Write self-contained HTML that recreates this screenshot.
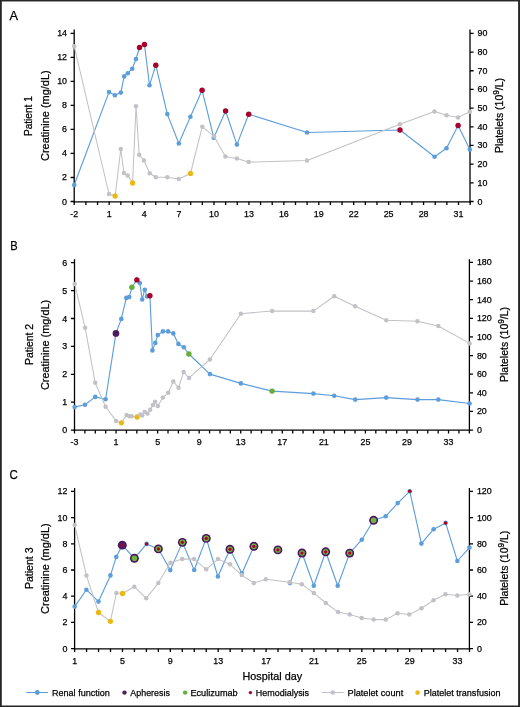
<!DOCTYPE html><html><head><meta charset="utf-8"><style>html,body{margin:0;padding:0;background:#fff;}svg{display:block;will-change:transform;}text{font-family:"Liberation Sans",sans-serif;fill:#000;stroke:#000;stroke-width:0.25px;}</style></head><body>
<svg width="520" height="707" viewBox="0 0 520 707">
<rect x="0" y="0" width="520" height="707" fill="#fff"/>
<g stroke="#000" stroke-width="1.3" fill="none">
<path d="M74.2 29.5V202.4"/>
<path d="M470 29.5V202.4"/>
<path d="M73.6 201.8H470.6"/>
<path d="M70.6 201.5H74.2M70.6 177.49H74.2M70.6 153.47H74.2M70.6 129.46H74.2M70.6 105.44H74.2M70.6 81.43H74.2M70.6 57.42H74.2M70.6 33.4H74.2M470 201.5H473.6M470 182.82H473.6M470 164.14H473.6M470 145.46H473.6M470 126.78H473.6M470 108.1H473.6M470 89.42H473.6M470 70.74H473.6M470 52.06H473.6M470 33.38H473.6M74.25 201.8V205M85.89 201.8V205M97.54 201.8V205M109.18 201.8V205M120.83 201.8V205M132.47 201.8V205M144.11 201.8V205M155.76 201.8V205M167.4 201.8V205M179.05 201.8V205M190.69 201.8V205M202.33 201.8V205M213.98 201.8V205M225.62 201.8V205M237.27 201.8V205M248.91 201.8V205M260.55 201.8V205M272.2 201.8V205M283.84 201.8V205M295.49 201.8V205M307.13 201.8V205M318.77 201.8V205M330.42 201.8V205M342.06 201.8V205M353.71 201.8V205M365.35 201.8V205M376.99 201.8V205M388.64 201.8V205M400.28 201.8V205M411.93 201.8V205M423.57 201.8V205M435.21 201.8V205M446.86 201.8V205M458.5 201.8V205M470.15 201.8V205"/>
</g>
<text x="67" y="204.5" font-size="8.9" text-anchor="end">0</text>
<text x="67" y="180.49" font-size="8.9" text-anchor="end">2</text>
<text x="67" y="156.47" font-size="8.9" text-anchor="end">4</text>
<text x="67" y="132.46" font-size="8.9" text-anchor="end">6</text>
<text x="67" y="108.44" font-size="8.9" text-anchor="end">8</text>
<text x="67" y="84.43" font-size="8.9" text-anchor="end">10</text>
<text x="67" y="60.42" font-size="8.9" text-anchor="end">12</text>
<text x="67" y="36.4" font-size="8.9" text-anchor="end">14</text>
<text x="477.5" y="204.5" font-size="8.9" text-anchor="start">0</text>
<text x="477.5" y="185.82" font-size="8.9" text-anchor="start">10</text>
<text x="477.5" y="167.14" font-size="8.9" text-anchor="start">20</text>
<text x="477.5" y="148.46" font-size="8.9" text-anchor="start">30</text>
<text x="477.5" y="129.78" font-size="8.9" text-anchor="start">40</text>
<text x="477.5" y="111.1" font-size="8.9" text-anchor="start">50</text>
<text x="477.5" y="92.42" font-size="8.9" text-anchor="start">60</text>
<text x="477.5" y="73.74" font-size="8.9" text-anchor="start">70</text>
<text x="477.5" y="55.06" font-size="8.9" text-anchor="start">80</text>
<text x="477.5" y="36.38" font-size="8.9" text-anchor="start">90</text>
<text x="74.25" y="217" font-size="8.9" text-anchor="middle">&#8209;2</text>
<text x="109.18" y="217" font-size="8.9" text-anchor="middle">1</text>
<text x="144.11" y="217" font-size="8.9" text-anchor="middle">4</text>
<text x="179.05" y="217" font-size="8.9" text-anchor="middle">7</text>
<text x="213.98" y="217" font-size="8.9" text-anchor="middle">10</text>
<text x="248.91" y="217" font-size="8.9" text-anchor="middle">13</text>
<text x="283.84" y="217" font-size="8.9" text-anchor="middle">16</text>
<text x="318.77" y="217" font-size="8.9" text-anchor="middle">19</text>
<text x="353.71" y="217" font-size="8.9" text-anchor="middle">22</text>
<text x="388.64" y="217" font-size="8.9" text-anchor="middle">25</text>
<text x="423.57" y="217" font-size="8.9" text-anchor="middle">28</text>
<text x="458.5" y="217" font-size="8.9" text-anchor="middle">31</text>
<polyline fill="none" stroke="#5c9ddb" stroke-width="1.12" stroke-linejoin="round" points="74.2,185 109,92.1 114.9,95.3 120.8,92.6 124.2,76.4 127.8,73.2 132.2,68.7 135.95,59.1 139.5,47.5 144.45,44.45 149.5,85.3 155.8,65.2 167.3,114.1 178.8,143.5 190.4,116.7 202.1,90.3 213.8,137.7 225.6,111 236.9,144.6 248.7,114.2 307.05,132.5 400,130 434.6,156.8 446.5,148.3 458.1,125.5 469.8,149.5"/>
<circle cx="74.2" cy="185" r="2.3" fill="#5c9ddb"/>
<circle cx="109" cy="92.1" r="2.3" fill="#5c9ddb"/>
<circle cx="114.9" cy="95.3" r="2.3" fill="#5c9ddb"/>
<circle cx="120.8" cy="92.6" r="2.3" fill="#5c9ddb"/>
<circle cx="124.2" cy="76.4" r="2.3" fill="#5c9ddb"/>
<circle cx="127.8" cy="73.2" r="2.3" fill="#5c9ddb"/>
<circle cx="132.2" cy="68.7" r="2.3" fill="#5c9ddb"/>
<circle cx="135.95" cy="59.1" r="2.3" fill="#5c9ddb"/>
<circle cx="139.5" cy="47.5" r="2.3" fill="#5c9ddb"/>
<circle cx="144.45" cy="44.45" r="2.3" fill="#5c9ddb"/>
<circle cx="149.5" cy="85.3" r="2.3" fill="#5c9ddb"/>
<circle cx="155.8" cy="65.2" r="2.3" fill="#5c9ddb"/>
<circle cx="167.3" cy="114.1" r="2.3" fill="#5c9ddb"/>
<circle cx="178.8" cy="143.5" r="2.3" fill="#5c9ddb"/>
<circle cx="190.4" cy="116.7" r="2.3" fill="#5c9ddb"/>
<circle cx="202.1" cy="90.3" r="2.3" fill="#5c9ddb"/>
<circle cx="213.8" cy="137.7" r="2.3" fill="#5c9ddb"/>
<circle cx="225.6" cy="111" r="2.3" fill="#5c9ddb"/>
<circle cx="236.9" cy="144.6" r="2.3" fill="#5c9ddb"/>
<circle cx="248.7" cy="114.2" r="2.3" fill="#5c9ddb"/>
<circle cx="307.05" cy="132.5" r="2.3" fill="#5c9ddb"/>
<circle cx="400" cy="130" r="2.3" fill="#5c9ddb"/>
<circle cx="434.6" cy="156.8" r="2.3" fill="#5c9ddb"/>
<circle cx="446.5" cy="148.3" r="2.3" fill="#5c9ddb"/>
<circle cx="458.1" cy="125.5" r="2.3" fill="#5c9ddb"/>
<circle cx="469.8" cy="149.5" r="2.3" fill="#5c9ddb"/>
<circle cx="139.5" cy="47.5" r="2.7" fill="#a8002a"/>
<circle cx="144.45" cy="44.45" r="2.7" fill="#a8002a"/>
<circle cx="155.8" cy="65.2" r="2.7" fill="#a8002a"/>
<circle cx="202.1" cy="90.3" r="2.7" fill="#a8002a"/>
<circle cx="225.6" cy="111" r="2.7" fill="#a8002a"/>
<circle cx="248.7" cy="114.2" r="2.7" fill="#a8002a"/>
<circle cx="400" cy="130" r="2.7" fill="#a8002a"/>
<circle cx="458.1" cy="125.5" r="2.7" fill="#a8002a"/>
<polyline fill="none" stroke="#c2c2c4" stroke-width="1.05" stroke-linejoin="round" points="74.2,46.3 109,194 115.1,196 120.8,149 123.95,173 127.7,175.4 132.6,183 136,106.2 139.2,154.8 143.9,160.45 149.7,173.3 155.8,177.25 167.3,177.3 178.8,179 190.5,173.5 202.3,126.7 214,136.3 225.4,156.5 236.9,158.5 248.7,162.1 307,160.5 399.9,124.2 434.5,111.6 446.5,115.3 458.1,117.4 469.8,111.8"/>
<circle cx="74.2" cy="46.3" r="2.25" fill="#c3c1c8"/>
<circle cx="109" cy="194" r="2.25" fill="#c3c1c8"/>
<circle cx="115.1" cy="196" r="2.65" fill="#ebb914"/>
<circle cx="120.8" cy="149" r="2.25" fill="#c3c1c8"/>
<circle cx="123.95" cy="173" r="2.25" fill="#c3c1c8"/>
<circle cx="127.7" cy="175.4" r="2.25" fill="#c3c1c8"/>
<circle cx="132.6" cy="183" r="2.65" fill="#ebb914"/>
<circle cx="136" cy="106.2" r="2.25" fill="#c3c1c8"/>
<circle cx="139.2" cy="154.8" r="2.25" fill="#c3c1c8"/>
<circle cx="143.9" cy="160.45" r="2.25" fill="#c3c1c8"/>
<circle cx="149.7" cy="173.3" r="2.25" fill="#c3c1c8"/>
<circle cx="155.8" cy="177.25" r="2.25" fill="#c3c1c8"/>
<circle cx="167.3" cy="177.3" r="2.25" fill="#c3c1c8"/>
<circle cx="178.8" cy="179" r="2.25" fill="#c3c1c8"/>
<circle cx="190.5" cy="173.5" r="2.65" fill="#ebb914"/>
<circle cx="202.3" cy="126.7" r="2.25" fill="#c3c1c8"/>
<circle cx="214" cy="136.3" r="2.25" fill="#c3c1c8"/>
<circle cx="225.4" cy="156.5" r="2.25" fill="#c3c1c8"/>
<circle cx="236.9" cy="158.5" r="2.25" fill="#c3c1c8"/>
<circle cx="248.7" cy="162.1" r="2.25" fill="#c3c1c8"/>
<circle cx="307" cy="160.5" r="2.25" fill="#c3c1c8"/>
<circle cx="399.9" cy="124.2" r="2.25" fill="#c3c1c8"/>
<circle cx="434.5" cy="111.6" r="2.25" fill="#c3c1c8"/>
<circle cx="446.5" cy="115.3" r="2.25" fill="#c3c1c8"/>
<circle cx="458.1" cy="117.4" r="2.25" fill="#c3c1c8"/>
<circle cx="469.8" cy="111.8" r="2.25" fill="#c3c1c8"/>
<text x="9.6" y="20.3" font-size="13.2" text-anchor="start" textLength="8.5" lengthAdjust="spacingAndGlyphs">A</text>
<text transform="translate(32.4 116.15) rotate(-90)" font-size="11" text-anchor="middle" textLength="39.9" lengthAdjust="spacingAndGlyphs">Patient 1</text>
<text transform="translate(48.5 115.7) rotate(-90)" font-size="11" text-anchor="middle" textLength="90.6" lengthAdjust="spacingAndGlyphs">Creatinine (mg/dL)</text>
<text transform="translate(502.8 115.5) rotate(-90)" font-size="11" text-anchor="middle" textLength="75" lengthAdjust="spacingAndGlyphs">Platelets (10<tspan font-size="8.6" dy="-3.6">9</tspan><tspan dy="3.6">/L)</tspan></text>
<g stroke="#000" stroke-width="1.3" fill="none">
<path d="M74.5 259.2V430.8"/>
<path d="M469.4 259.2V430.8"/>
<path d="M73.9 430.2H470"/>
<path d="M70.9 430.1H74.5M70.9 402.2H74.5M70.9 374.3H74.5M70.9 346.4H74.5M70.9 318.5H74.5M70.9 290.6H74.5M70.9 262.7H74.5M469.4 430.1H473M469.4 411.47H473M469.4 392.83H473M469.4 374.2H473M469.4 355.56H473M469.4 336.93H473M469.4 318.3H473M469.4 299.66H473M469.4 281.03H473M469.4 262.39H473M74.5 430.2V433.4M84.89 430.2V433.4M95.28 430.2V433.4M105.67 430.2V433.4M116.06 430.2V433.4M126.45 430.2V433.4M136.84 430.2V433.4M147.23 430.2V433.4M157.62 430.2V433.4M168.01 430.2V433.4M178.4 430.2V433.4M188.79 430.2V433.4M199.18 430.2V433.4M209.57 430.2V433.4M219.96 430.2V433.4M230.35 430.2V433.4M240.74 430.2V433.4M251.13 430.2V433.4M261.52 430.2V433.4M271.91 430.2V433.4M282.3 430.2V433.4M292.69 430.2V433.4M303.08 430.2V433.4M313.47 430.2V433.4M323.86 430.2V433.4M334.25 430.2V433.4M344.64 430.2V433.4M355.03 430.2V433.4M365.42 430.2V433.4M375.81 430.2V433.4M386.2 430.2V433.4M396.59 430.2V433.4M406.98 430.2V433.4M417.37 430.2V433.4M427.76 430.2V433.4M438.15 430.2V433.4M448.54 430.2V433.4M458.93 430.2V433.4M469.32 430.2V433.4"/>
</g>
<text x="67.3" y="433.1" font-size="8.9" text-anchor="end">0</text>
<text x="67.3" y="405.2" font-size="8.9" text-anchor="end">1</text>
<text x="67.3" y="377.3" font-size="8.9" text-anchor="end">2</text>
<text x="67.3" y="349.4" font-size="8.9" text-anchor="end">3</text>
<text x="67.3" y="321.5" font-size="8.9" text-anchor="end">4</text>
<text x="67.3" y="293.6" font-size="8.9" text-anchor="end">5</text>
<text x="67.3" y="265.7" font-size="8.9" text-anchor="end">6</text>
<text x="476.9" y="433.1" font-size="8.9" text-anchor="start">0</text>
<text x="476.9" y="414.47" font-size="8.9" text-anchor="start">20</text>
<text x="476.9" y="395.83" font-size="8.9" text-anchor="start">40</text>
<text x="476.9" y="377.2" font-size="8.9" text-anchor="start">60</text>
<text x="476.9" y="358.56" font-size="8.9" text-anchor="start">80</text>
<text x="476.9" y="339.93" font-size="8.9" text-anchor="start">100</text>
<text x="476.9" y="321.3" font-size="8.9" text-anchor="start">120</text>
<text x="476.9" y="302.66" font-size="8.9" text-anchor="start">140</text>
<text x="476.9" y="284.03" font-size="8.9" text-anchor="start">160</text>
<text x="476.9" y="265.39" font-size="8.9" text-anchor="start">180</text>
<text x="74.5" y="445.4" font-size="8.9" text-anchor="middle">&#8209;3</text>
<text x="116.06" y="445.4" font-size="8.9" text-anchor="middle">1</text>
<text x="157.62" y="445.4" font-size="8.9" text-anchor="middle">5</text>
<text x="199.18" y="445.4" font-size="8.9" text-anchor="middle">9</text>
<text x="240.74" y="445.4" font-size="8.9" text-anchor="middle">13</text>
<text x="282.3" y="445.4" font-size="8.9" text-anchor="middle">17</text>
<text x="323.86" y="445.4" font-size="8.9" text-anchor="middle">21</text>
<text x="365.42" y="445.4" font-size="8.9" text-anchor="middle">25</text>
<text x="406.98" y="445.4" font-size="8.9" text-anchor="middle">29</text>
<text x="448.54" y="445.4" font-size="8.9" text-anchor="middle">33</text>
<polyline fill="none" stroke="#5c9ddb" stroke-width="1.12" stroke-linejoin="round" points="74.6,407.1 85,404.7 95.2,396.9 105.6,399.3 115.95,333.4 121.3,318.9 126.3,297.9 129.2,297.1 131.9,287.3 136.9,279.9 139.8,283 142.2,299.5 144.8,289.7 147,296.4 149.9,295.7 152.4,350.4 155.3,342.9 157.8,335.1 162.9,331.4 168.1,331.4 173.3,333.4 178.4,343.9 183.8,347.3 188.9,354 209.9,374.1 240.9,383.4 272.1,391.1 313.4,393.6 334.2,395.7 355.2,399.6 386.2,397.6 417.5,399.6 438.3,399.6 469.6,403.5"/>
<circle cx="74.6" cy="407.1" r="2.3" fill="#5c9ddb"/>
<circle cx="85" cy="404.7" r="2.3" fill="#5c9ddb"/>
<circle cx="95.2" cy="396.9" r="2.3" fill="#5c9ddb"/>
<circle cx="105.6" cy="399.3" r="2.3" fill="#5c9ddb"/>
<circle cx="115.95" cy="333.4" r="2.3" fill="#5c9ddb"/>
<circle cx="121.3" cy="318.9" r="2.3" fill="#5c9ddb"/>
<circle cx="126.3" cy="297.9" r="2.3" fill="#5c9ddb"/>
<circle cx="129.2" cy="297.1" r="2.3" fill="#5c9ddb"/>
<circle cx="131.9" cy="287.3" r="2.3" fill="#5c9ddb"/>
<circle cx="136.9" cy="279.9" r="2.3" fill="#5c9ddb"/>
<circle cx="139.8" cy="283" r="2.3" fill="#5c9ddb"/>
<circle cx="142.2" cy="299.5" r="2.3" fill="#5c9ddb"/>
<circle cx="144.8" cy="289.7" r="2.3" fill="#5c9ddb"/>
<circle cx="147" cy="296.4" r="2.3" fill="#5c9ddb"/>
<circle cx="149.9" cy="295.7" r="2.3" fill="#5c9ddb"/>
<circle cx="152.4" cy="350.4" r="2.3" fill="#5c9ddb"/>
<circle cx="155.3" cy="342.9" r="2.3" fill="#5c9ddb"/>
<circle cx="157.8" cy="335.1" r="2.3" fill="#5c9ddb"/>
<circle cx="162.9" cy="331.4" r="2.3" fill="#5c9ddb"/>
<circle cx="168.1" cy="331.4" r="2.3" fill="#5c9ddb"/>
<circle cx="173.3" cy="333.4" r="2.3" fill="#5c9ddb"/>
<circle cx="178.4" cy="343.9" r="2.3" fill="#5c9ddb"/>
<circle cx="183.8" cy="347.3" r="2.3" fill="#5c9ddb"/>
<circle cx="188.9" cy="354" r="2.3" fill="#5c9ddb"/>
<circle cx="209.9" cy="374.1" r="2.3" fill="#5c9ddb"/>
<circle cx="240.9" cy="383.4" r="2.3" fill="#5c9ddb"/>
<circle cx="272.1" cy="391.1" r="2.3" fill="#5c9ddb"/>
<circle cx="313.4" cy="393.6" r="2.3" fill="#5c9ddb"/>
<circle cx="334.2" cy="395.7" r="2.3" fill="#5c9ddb"/>
<circle cx="355.2" cy="399.6" r="2.3" fill="#5c9ddb"/>
<circle cx="386.2" cy="397.6" r="2.3" fill="#5c9ddb"/>
<circle cx="417.5" cy="399.6" r="2.3" fill="#5c9ddb"/>
<circle cx="438.3" cy="399.6" r="2.3" fill="#5c9ddb"/>
<circle cx="469.6" cy="403.5" r="2.3" fill="#5c9ddb"/>
<circle cx="115.95" cy="333.4" r="3.35" fill="#4b1c5e"/>
<circle cx="131.9" cy="287.3" r="2.7" fill="#68ac3a"/>
<circle cx="136.9" cy="279.9" r="2.7" fill="#a8002a"/>
<circle cx="149.9" cy="295.7" r="2.7" fill="#a8002a"/>
<circle cx="188.9" cy="354" r="2.7" fill="#68ac3a"/>
<circle cx="272.1" cy="391.1" r="2.7" fill="#68ac3a"/>
<polyline fill="none" stroke="#c2c2c4" stroke-width="1.05" stroke-linejoin="round" points="74.7,284 85.1,327.7 95.2,382.7 105.6,406.7 116.1,420.9 121.4,422.8 126.6,415.1 129.4,416.3 131.6,416.3 137.1,417 140.3,414.6 142.2,415.5 144.6,412 147.4,413.6 150.2,409.8 152.9,404.9 155.1,401.8 157.8,406 162.9,397.6 168.2,392.8 173.3,381.5 178.5,387.7 183.6,372.1 189,377.9 209.9,359.5 240.9,313.7 272.1,311 313.4,311.1 334.2,296.2 355.1,306.3 386.3,320.3 417.4,321.3 438.3,326 469.6,343.4"/>
<circle cx="74.7" cy="284" r="2.25" fill="#c3c1c8"/>
<circle cx="85.1" cy="327.7" r="2.25" fill="#c3c1c8"/>
<circle cx="95.2" cy="382.7" r="2.25" fill="#c3c1c8"/>
<circle cx="105.6" cy="406.7" r="2.25" fill="#c3c1c8"/>
<circle cx="116.1" cy="420.9" r="2.25" fill="#c3c1c8"/>
<circle cx="121.4" cy="422.8" r="2.65" fill="#ebb914"/>
<circle cx="126.6" cy="415.1" r="2.25" fill="#c3c1c8"/>
<circle cx="129.4" cy="416.3" r="2.25" fill="#c3c1c8"/>
<circle cx="131.6" cy="416.3" r="2.25" fill="#c3c1c8"/>
<circle cx="137.1" cy="417" r="2.65" fill="#ebb914"/>
<circle cx="140.3" cy="414.6" r="2.25" fill="#c3c1c8"/>
<circle cx="142.2" cy="415.5" r="2.25" fill="#c3c1c8"/>
<circle cx="144.6" cy="412" r="2.25" fill="#c3c1c8"/>
<circle cx="147.4" cy="413.6" r="2.25" fill="#c3c1c8"/>
<circle cx="150.2" cy="409.8" r="2.25" fill="#c3c1c8"/>
<circle cx="152.9" cy="404.9" r="2.25" fill="#c3c1c8"/>
<circle cx="155.1" cy="401.8" r="2.25" fill="#c3c1c8"/>
<circle cx="157.8" cy="406" r="2.25" fill="#c3c1c8"/>
<circle cx="162.9" cy="397.6" r="2.25" fill="#c3c1c8"/>
<circle cx="168.2" cy="392.8" r="2.25" fill="#c3c1c8"/>
<circle cx="173.3" cy="381.5" r="2.25" fill="#c3c1c8"/>
<circle cx="178.5" cy="387.7" r="2.25" fill="#c3c1c8"/>
<circle cx="183.6" cy="372.1" r="2.25" fill="#c3c1c8"/>
<circle cx="189" cy="377.9" r="2.25" fill="#c3c1c8"/>
<circle cx="209.9" cy="359.5" r="2.25" fill="#c3c1c8"/>
<circle cx="240.9" cy="313.7" r="2.25" fill="#c3c1c8"/>
<circle cx="272.1" cy="311" r="2.25" fill="#c3c1c8"/>
<circle cx="313.4" cy="311.1" r="2.25" fill="#c3c1c8"/>
<circle cx="334.2" cy="296.2" r="2.25" fill="#c3c1c8"/>
<circle cx="355.1" cy="306.3" r="2.25" fill="#c3c1c8"/>
<circle cx="386.3" cy="320.3" r="2.25" fill="#c3c1c8"/>
<circle cx="417.4" cy="321.3" r="2.25" fill="#c3c1c8"/>
<circle cx="438.3" cy="326" r="2.25" fill="#c3c1c8"/>
<circle cx="469.6" cy="343.4" r="2.25" fill="#c3c1c8"/>
<text x="10.2" y="249.8" font-size="13.2" text-anchor="start" textLength="7.4" lengthAdjust="spacingAndGlyphs">B</text>
<text transform="translate(33 344.45) rotate(-90)" font-size="11" text-anchor="middle" textLength="41.1" lengthAdjust="spacingAndGlyphs">Patient 2</text>
<text transform="translate(49.3 344.95) rotate(-90)" font-size="11" text-anchor="middle" textLength="90.1" lengthAdjust="spacingAndGlyphs">Creatinine (mg/dL)</text>
<text transform="translate(508 344.5) rotate(-90)" font-size="11" text-anchor="middle" textLength="75" lengthAdjust="spacingAndGlyphs">Platelets (10<tspan font-size="8.6" dy="-3.6">9</tspan><tspan dy="3.6">/L)</tspan></text>
<g stroke="#000" stroke-width="1.3" fill="none">
<path d="M74.6 488V649.4"/>
<path d="M469.4 488V649.4"/>
<path d="M74 648.8H470"/>
<path d="M71 648.6H74.6M71 622.4H74.6M71 596.2H74.6M71 570H74.6M71 543.8H74.6M71 517.6H74.6M71 491.4H74.6M469.4 648.6H473M469.4 622.4H473M469.4 596.2H473M469.4 570H473M469.4 543.8H473M469.4 517.6H473M469.4 491.4H473M74.6 648.8V652M86.57 648.8V652M98.53 648.8V652M110.5 648.8V652M122.47 648.8V652M134.44 648.8V652M146.4 648.8V652M158.37 648.8V652M170.34 648.8V652M182.3 648.8V652M194.27 648.8V652M206.24 648.8V652M218.2 648.8V652M230.17 648.8V652M242.14 648.8V652M254.1 648.8V652M266.07 648.8V652M278.04 648.8V652M290.01 648.8V652M301.97 648.8V652M313.94 648.8V652M325.91 648.8V652M337.87 648.8V652M349.84 648.8V652M361.81 648.8V652M373.77 648.8V652M385.74 648.8V652M397.71 648.8V652M409.68 648.8V652M421.64 648.8V652M433.61 648.8V652M445.58 648.8V652M457.54 648.8V652M469.51 648.8V652"/>
</g>
<text x="67.4" y="651.6" font-size="8.9" text-anchor="end">0</text>
<text x="67.4" y="625.4" font-size="8.9" text-anchor="end">2</text>
<text x="67.4" y="599.2" font-size="8.9" text-anchor="end">4</text>
<text x="67.4" y="573" font-size="8.9" text-anchor="end">6</text>
<text x="67.4" y="546.8" font-size="8.9" text-anchor="end">8</text>
<text x="67.4" y="520.6" font-size="8.9" text-anchor="end">10</text>
<text x="67.4" y="494.4" font-size="8.9" text-anchor="end">12</text>
<text x="476.9" y="651.6" font-size="8.9" text-anchor="start">0</text>
<text x="476.9" y="625.4" font-size="8.9" text-anchor="start">20</text>
<text x="476.9" y="599.2" font-size="8.9" text-anchor="start">40</text>
<text x="476.9" y="573" font-size="8.9" text-anchor="start">60</text>
<text x="476.9" y="546.8" font-size="8.9" text-anchor="start">80</text>
<text x="476.9" y="520.6" font-size="8.9" text-anchor="start">100</text>
<text x="476.9" y="494.4" font-size="8.9" text-anchor="start">120</text>
<text x="74.6" y="664" font-size="8.9" text-anchor="middle">1</text>
<text x="122.47" y="664" font-size="8.9" text-anchor="middle">5</text>
<text x="170.34" y="664" font-size="8.9" text-anchor="middle">9</text>
<text x="218.2" y="664" font-size="8.9" text-anchor="middle">13</text>
<text x="266.07" y="664" font-size="8.9" text-anchor="middle">17</text>
<text x="313.94" y="664" font-size="8.9" text-anchor="middle">21</text>
<text x="361.81" y="664" font-size="8.9" text-anchor="middle">25</text>
<text x="409.68" y="664" font-size="8.9" text-anchor="middle">29</text>
<text x="457.54" y="664" font-size="8.9" text-anchor="middle">33</text>
<polyline fill="none" stroke="#5c9ddb" stroke-width="1.12" stroke-linejoin="round" points="74.7,606.6 86.4,589.7 98.5,601.6 110.45,575.4 116.3,556.9 122.3,545.15 134.4,558.3 146.6,543.9 158.4,548.9 170.3,570.1 182.4,542.35 194.2,570 206.25,538.4 217.9,576.5 230,549.3 241.9,573.4 253.9,546.3"/>
<polyline fill="none" stroke="#5c9ddb" stroke-width="1.12" stroke-linejoin="round" points="289.9,583.1 302,553 313.8,585.7 325.7,551.8 337.7,585.7 349.7,553.1 361.8,539.7 373.6,520.3 385.7,516.3 397.7,503.1 409.75,491.3 421.4,543.6 433.6,529.2 445.6,522.9 457.35,561 469.4,547.6"/>
<circle cx="74.7" cy="606.6" r="2.3" fill="#5c9ddb"/>
<circle cx="86.4" cy="589.7" r="2.3" fill="#5c9ddb"/>
<circle cx="98.5" cy="601.6" r="2.3" fill="#5c9ddb"/>
<circle cx="110.45" cy="575.4" r="2.3" fill="#5c9ddb"/>
<circle cx="116.3" cy="556.9" r="2.3" fill="#5c9ddb"/>
<circle cx="122.3" cy="545.15" r="4.45" fill="#42105a"/>
<circle cx="122.3" cy="545.15" r="3.7" fill="#4f1f66"/>
<circle cx="122.3" cy="545.15" r="1.6" fill="#b0001f"/>
<circle cx="134.4" cy="558.3" r="4.45" fill="#42105a"/>
<circle cx="134.4" cy="558.3" r="3.7" fill="#4f1f66"/>
<circle cx="134.4" cy="558.3" r="2.8" fill="#6cb43e"/>
<circle cx="146.6" cy="543.9" r="2.3" fill="#5c9ddb"/>
<circle cx="146.6" cy="543.9" r="1.75" fill="#b0001f"/>
<circle cx="158.4" cy="548.9" r="4.45" fill="#42105a"/>
<circle cx="158.4" cy="548.9" r="3.7" fill="#4f1f66"/>
<circle cx="158.4" cy="548.9" r="2.8" fill="#6cb43e"/>
<circle cx="158.4" cy="548.9" r="1.6" fill="#b0001f"/>
<circle cx="170.3" cy="570.1" r="2.3" fill="#5c9ddb"/>
<circle cx="182.4" cy="542.35" r="4.45" fill="#42105a"/>
<circle cx="182.4" cy="542.35" r="3.7" fill="#4f1f66"/>
<circle cx="182.4" cy="542.35" r="2.8" fill="#6cb43e"/>
<circle cx="182.4" cy="542.35" r="1.6" fill="#b0001f"/>
<circle cx="194.2" cy="570" r="2.3" fill="#5c9ddb"/>
<circle cx="206.25" cy="538.4" r="4.45" fill="#42105a"/>
<circle cx="206.25" cy="538.4" r="3.7" fill="#4f1f66"/>
<circle cx="206.25" cy="538.4" r="2.8" fill="#6cb43e"/>
<circle cx="206.25" cy="538.4" r="1.6" fill="#b0001f"/>
<circle cx="217.9" cy="576.5" r="2.3" fill="#5c9ddb"/>
<circle cx="230" cy="549.3" r="4.45" fill="#42105a"/>
<circle cx="230" cy="549.3" r="3.7" fill="#4f1f66"/>
<circle cx="230" cy="549.3" r="2.8" fill="#6cb43e"/>
<circle cx="230" cy="549.3" r="1.6" fill="#b0001f"/>
<circle cx="241.9" cy="573.4" r="2.3" fill="#5c9ddb"/>
<circle cx="253.9" cy="546.3" r="4.45" fill="#42105a"/>
<circle cx="253.9" cy="546.3" r="3.7" fill="#4f1f66"/>
<circle cx="253.9" cy="546.3" r="2.8" fill="#6cb43e"/>
<circle cx="253.9" cy="546.3" r="1.6" fill="#b0001f"/>
<circle cx="277.9" cy="549.9" r="4.45" fill="#42105a"/>
<circle cx="277.9" cy="549.9" r="3.7" fill="#4f1f66"/>
<circle cx="277.9" cy="549.9" r="2.8" fill="#6cb43e"/>
<circle cx="277.9" cy="549.9" r="1.6" fill="#b0001f"/>
<circle cx="289.9" cy="583.1" r="2.3" fill="#5c9ddb"/>
<circle cx="302" cy="553" r="4.45" fill="#42105a"/>
<circle cx="302" cy="553" r="3.7" fill="#4f1f66"/>
<circle cx="302" cy="553" r="2.8" fill="#6cb43e"/>
<circle cx="302" cy="553" r="1.6" fill="#b0001f"/>
<circle cx="313.8" cy="585.7" r="2.3" fill="#5c9ddb"/>
<circle cx="325.7" cy="551.8" r="4.45" fill="#42105a"/>
<circle cx="325.7" cy="551.8" r="3.7" fill="#4f1f66"/>
<circle cx="325.7" cy="551.8" r="2.8" fill="#6cb43e"/>
<circle cx="325.7" cy="551.8" r="1.6" fill="#b0001f"/>
<circle cx="337.7" cy="585.7" r="2.3" fill="#5c9ddb"/>
<circle cx="349.7" cy="553.1" r="4.45" fill="#42105a"/>
<circle cx="349.7" cy="553.1" r="3.7" fill="#4f1f66"/>
<circle cx="349.7" cy="553.1" r="2.8" fill="#6cb43e"/>
<circle cx="349.7" cy="553.1" r="1.6" fill="#b0001f"/>
<circle cx="361.8" cy="539.7" r="2.3" fill="#5c9ddb"/>
<circle cx="373.6" cy="520.3" r="4.45" fill="#42105a"/>
<circle cx="373.6" cy="520.3" r="3.7" fill="#4f1f66"/>
<circle cx="373.6" cy="520.3" r="2.8" fill="#6cb43e"/>
<circle cx="385.7" cy="516.3" r="2.3" fill="#5c9ddb"/>
<circle cx="397.7" cy="503.1" r="2.3" fill="#5c9ddb"/>
<circle cx="409.75" cy="491.3" r="2.3" fill="#5c9ddb"/>
<circle cx="409.75" cy="491.3" r="1.75" fill="#b0001f"/>
<circle cx="421.4" cy="543.6" r="2.3" fill="#5c9ddb"/>
<circle cx="433.6" cy="529.2" r="2.3" fill="#5c9ddb"/>
<circle cx="445.6" cy="522.9" r="2.3" fill="#5c9ddb"/>
<circle cx="445.6" cy="522.9" r="1.75" fill="#b0001f"/>
<circle cx="457.35" cy="561" r="2.3" fill="#5c9ddb"/>
<circle cx="469.4" cy="547.6" r="2.3" fill="#5c9ddb"/>
<polyline fill="none" stroke="#c2c2c4" stroke-width="1.05" stroke-linejoin="round" points="74.7,525.1 86.4,575.4 98.5,612.5 110.4,621.3 116.4,593 122.5,593.5 134.3,586.7 146.2,598.3 158.3,583.1 170.4,562.75 182.25,559.1 194.1,559.1 206.25,569.3 217.9,559.1 230,564.3 241.8,575.1 253.8,583.1 265.8,579.2 289.6,582.2 301.8,584.2 313.8,593.1 325.8,603 338,612.1 349.7,614.4 361.7,618.1 373.7,619.6 385.7,619.6 397.5,613.2 409.3,614.6 421.5,608.3 433.5,600.3 445.5,594.3 457.3,595.5 469.3,594.3"/>
<circle cx="74.7" cy="525.1" r="2.25" fill="#c3c1c8"/>
<circle cx="86.4" cy="575.4" r="2.25" fill="#c3c1c8"/>
<circle cx="98.5" cy="612.5" r="2.65" fill="#ebb914"/>
<circle cx="110.4" cy="621.3" r="2.65" fill="#ebb914"/>
<circle cx="116.4" cy="593" r="2.25" fill="#c3c1c8"/>
<circle cx="122.5" cy="593.5" r="2.65" fill="#ebb914"/>
<circle cx="134.3" cy="586.7" r="2.25" fill="#c3c1c8"/>
<circle cx="146.2" cy="598.3" r="2.25" fill="#c3c1c8"/>
<circle cx="158.3" cy="583.1" r="2.25" fill="#c3c1c8"/>
<circle cx="170.4" cy="562.75" r="2.25" fill="#c3c1c8"/>
<circle cx="182.25" cy="559.1" r="2.25" fill="#c3c1c8"/>
<circle cx="194.1" cy="559.1" r="2.25" fill="#c3c1c8"/>
<circle cx="206.25" cy="569.3" r="2.25" fill="#c3c1c8"/>
<circle cx="217.9" cy="559.1" r="2.25" fill="#c3c1c8"/>
<circle cx="230" cy="564.3" r="2.25" fill="#c3c1c8"/>
<circle cx="241.8" cy="575.1" r="2.25" fill="#c3c1c8"/>
<circle cx="253.8" cy="583.1" r="2.25" fill="#c3c1c8"/>
<circle cx="265.8" cy="579.2" r="2.25" fill="#c3c1c8"/>
<circle cx="289.6" cy="582.2" r="2.25" fill="#c3c1c8"/>
<circle cx="301.8" cy="584.2" r="2.25" fill="#c3c1c8"/>
<circle cx="313.8" cy="593.1" r="2.25" fill="#c3c1c8"/>
<circle cx="325.8" cy="603" r="2.25" fill="#c3c1c8"/>
<circle cx="338" cy="612.1" r="2.25" fill="#c3c1c8"/>
<circle cx="349.7" cy="614.4" r="2.25" fill="#c3c1c8"/>
<circle cx="361.7" cy="618.1" r="2.25" fill="#c3c1c8"/>
<circle cx="373.7" cy="619.6" r="2.25" fill="#c3c1c8"/>
<circle cx="385.7" cy="619.6" r="2.25" fill="#c3c1c8"/>
<circle cx="397.5" cy="613.2" r="2.25" fill="#c3c1c8"/>
<circle cx="409.3" cy="614.6" r="2.25" fill="#c3c1c8"/>
<circle cx="421.5" cy="608.3" r="2.25" fill="#c3c1c8"/>
<circle cx="433.5" cy="600.3" r="2.25" fill="#c3c1c8"/>
<circle cx="445.5" cy="594.3" r="2.25" fill="#c3c1c8"/>
<circle cx="457.3" cy="595.5" r="2.25" fill="#c3c1c8"/>
<circle cx="469.3" cy="594.3" r="2.25" fill="#c3c1c8"/>
<text x="9.5" y="478.7" font-size="13.2" text-anchor="start" textLength="8.3" lengthAdjust="spacingAndGlyphs">C</text>
<text transform="translate(32.8 568.3) rotate(-90)" font-size="11" text-anchor="middle" textLength="41.6" lengthAdjust="spacingAndGlyphs">Patient 3</text>
<text transform="translate(49 568.65) rotate(-90)" font-size="11" text-anchor="middle" textLength="90.5" lengthAdjust="spacingAndGlyphs">Creatinine (mg/dL)</text>
<text transform="translate(508 568.25) rotate(-90)" font-size="11" text-anchor="middle" textLength="75" lengthAdjust="spacingAndGlyphs">Platelets (10<tspan font-size="8.6" dy="-3.6">9</tspan><tspan dy="3.6">/L)</tspan></text>
<text x="272.3" y="680.4" font-size="11" text-anchor="middle" textLength="59.6" lengthAdjust="spacingAndGlyphs">Hospital day</text>
<path d="M26.3 692.5H48" stroke="#5c9ddb" stroke-width="1.0"/>
<circle cx="37.3" cy="692.5" r="2.45" fill="#5c9ddb"/>
<text x="52" y="695.9" font-size="9.7" text-anchor="start" textLength="57.8" lengthAdjust="spacingAndGlyphs">Renal function</text>
<circle cx="124.5" cy="692.6" r="2.2" fill="#4b1c5e"/>
<text x="130.3" y="695.9" font-size="9.7" text-anchor="start" textLength="39.6" lengthAdjust="spacingAndGlyphs">Apheresis</text>
<circle cx="185.1" cy="692.6" r="2.2" fill="#68ac3a"/>
<text x="190.4" y="695.9" font-size="9.7" text-anchor="start" textLength="47.3" lengthAdjust="spacingAndGlyphs">Eculizumab</text>
<circle cx="250.4" cy="692.6" r="1.7" fill="#a8002a"/>
<text x="255.8" y="695.9" font-size="9.7" text-anchor="start" textLength="53.3" lengthAdjust="spacingAndGlyphs">Hemodialysis</text>
<path d="M321.5 692.5H343.7" stroke="#c2c2c4" stroke-width="1.0"/>
<circle cx="332.8" cy="692.5" r="2.3" fill="#c3c1c8"/>
<text x="347.5" y="695.9" font-size="9.7" text-anchor="start" textLength="55.7" lengthAdjust="spacingAndGlyphs">Platelet count</text>
<circle cx="417.6" cy="692.6" r="2.3" fill="#ebb914"/>
<text x="423.7" y="695.9" font-size="9.7" text-anchor="start" textLength="76.8" lengthAdjust="spacingAndGlyphs">Platelet transfusion</text>
<g fill="#262626"><rect x="0" y="0" width="520" height="1.45"/><rect x="0" y="0" width="1.8" height="707"/><rect x="518.1" y="0" width="1.9" height="707"/><rect x="0" y="705.5" width="520" height="1.5"/></g>
</svg></body></html>
